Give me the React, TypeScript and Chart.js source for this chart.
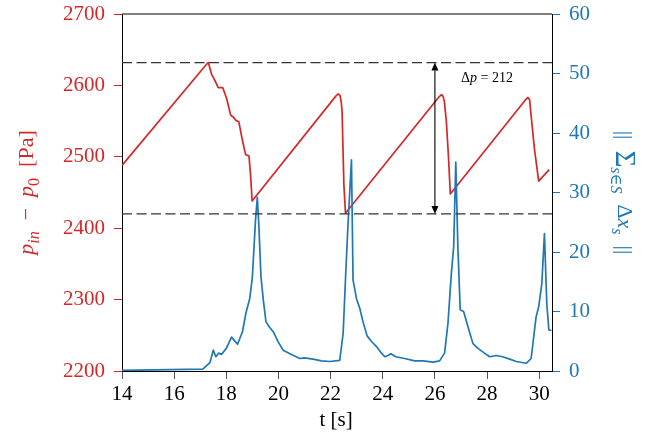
import React, { useEffect, useRef } from "react";
import { Chart, registerables } from "chart.js";

Chart.register(...registerables);

const RED = "#d62728";
const BLUE = "#1f77b4";
const FONT = '"Liberation Serif", "DejaVu Serif", serif';

// Pressure p_in - p_0 [Pa] (left axis)
const pressureT = [
  14.0, 17.25, 17.31, 17.44, 17.56, 17.69, 17.86, 18.01, 18.17, 18.26, 18.37, 18.48,
  18.63, 18.74, 18.87, 18.93, 18.99,
  22.2, 22.29, 22.36, 22.41, 22.44, 22.51, 22.57,
  26.16, 26.25, 26.31, 26.36, 26.44, 26.53, 26.59,
  29.5, 29.57, 29.63, 29.7, 29.82, 29.98, 30.38,
];
const pressureV = [
  2488, 2630, 2632, 2615, 2607, 2597, 2597, 2582, 2558, 2556, 2551, 2549,
  2521, 2503, 2501, 2475, 2438,
  2585, 2588, 2586, 2576, 2563, 2460, 2421,
  2584, 2587, 2585, 2578, 2549, 2493, 2448,
  2581, 2583, 2580, 2554, 2510, 2466, 2482,
];

// || sum_{s in S} Delta x_s || (right axis)
const normT = [
  14.0, 17.1, 17.37, 17.5, 17.6, 17.7, 17.82, 18.0, 18.2, 18.43, 18.62, 18.75, 18.9,
  19.0, 19.12, 19.19, 19.25, 19.33, 19.42, 19.52, 19.65, 19.8, 19.99, 20.18, 20.44,
  20.82, 21.0, 21.33, 21.65, 21.97, 22.35, 22.48, 22.58, 22.67, 22.8, 22.86, 22.99,
  23.12, 23.24, 23.4, 23.56, 23.76, 23.95, 24.08, 24.2, 24.31, 24.5, 24.84, 25.22,
  25.55, 25.92, 26.18, 26.37, 26.5, 26.63, 26.72, 26.8, 26.88, 26.97, 27.1, 27.27,
  27.46, 27.65, 27.9, 28.1, 28.35, 28.6, 28.87, 29.12, 29.5, 29.69, 29.88, 29.98,
  30.1, 30.2, 30.29, 30.37, 30.47,
];
const normV = [
  0.1, 0.3, 1.4, 3.5, 2.4, 3.0, 2.8, 3.8, 5.7, 4.5, 6.6, 9.7, 12.2,
  15.8, 25.4, 29.2, 24.3, 15.8, 11.9, 8.3, 7.4, 6.6, 4.9, 3.5, 2.9,
  2.1, 2.2, 2.0, 1.7, 1.6, 1.8, 6.3, 16.4, 24.9, 35.5, 15.3, 12.2,
  10.5, 8.3, 5.9, 5.0, 4.1, 3.0, 2.4, 2.6, 2.9, 2.4, 2.1, 1.7,
  1.7, 1.5, 1.7, 3.0, 8.0, 16.4, 20.9, 35.1, 20.9, 10.3, 10.0, 7.4,
  4.6, 3.8, 3.0, 2.4, 2.6, 2.4, 2.0, 1.6, 1.3, 2.1, 9.1, 10.8,
  14.7, 23.1, 11.3, 6.9, 6.8,
];

const xTicksStep = 2;
const xMin = 14;
const xMax = 30.49;
const pMin = 2200;
const pMax = 2700;
const nMin = 0;
const nMax = 60;

// annotation values
const levelHigh = 2632;
const levelLow = 2420;
const arrowT = 26;
const deltaLabel = "212";
const deltaLabelT = 28.0;
const deltaLabelP = 2611;

type Seg = { t: string; it?: boolean; sub?: boolean; scale?: number; dy?: number };

function drawRich(
  ctx: CanvasRenderingContext2D,
  segs: Seg[],
  cx: number,
  cy: number,
  rot: number,
  size: number,
  color: string
) {
  ctx.save();
  ctx.translate(cx, cy);
  ctx.rotate(rot);
  const fontFor = (s: Seg) =>
    `${s.it ? "italic " : ""}${Math.round(size * (s.sub ? 0.72 : s.scale || 1))}px ${FONT}`;
  let total = 0;
  const widths = segs.map((s) => {
    ctx.font = fontFor(s);
    const w = ctx.measureText(s.t).width;
    total += w;
    return w;
  });
  let x = -total / 2;
  ctx.fillStyle = color;
  ctx.textBaseline = "alphabetic";
  ctx.textAlign = "left";
  const base = size * 0.33;
  segs.forEach((s, i) => {
    ctx.font = fontFor(s);
    ctx.fillText(s.t, x, base + (s.sub ? size * 0.24 : 0) + (s.dy || 0) * size);
    x += widths[i];
  });
  ctx.restore();
}

const overlayPlugin = {
  id: "overlay",
  afterDatasetsDraw(chart: any) {
    const ctx: CanvasRenderingContext2D = chart.ctx;
    const { left, right, top } = chart.chartArea;
    const xs = chart.scales.x;
    const ys = chart.scales.y;
    ctx.save();
    // top spine
    ctx.strokeStyle = "#000";
    ctx.lineWidth = 1;
    ctx.beginPath();
    ctx.moveTo(left, top);
    ctx.lineTo(right, top);
    ctx.stroke();
    // dashed levels
    ctx.strokeStyle = "#333";
    ctx.lineWidth = 1.3;
    ctx.setLineDash([10, 4.5]);
    [levelHigh, levelLow].forEach((v) => {
      const y = ys.getPixelForValue(v);
      ctx.beginPath();
      ctx.moveTo(left, y);
      ctx.lineTo(right, y);
      ctx.stroke();
    });
    ctx.setLineDash([]);
    // double arrow
    const ax = xs.getPixelForValue(arrowT);
    const yTop = ys.getPixelForValue(levelHigh);
    const yBot = ys.getPixelForValue(levelLow);
    const hl = 8;
    const hw = 3.5;
    ctx.strokeStyle = "#000";
    ctx.fillStyle = "#000";
    ctx.lineWidth = 1.1;
    ctx.beginPath();
    ctx.moveTo(ax, yTop + hl);
    ctx.lineTo(ax, yBot - hl);
    ctx.stroke();
    ctx.beginPath();
    ctx.moveTo(ax, yTop);
    ctx.lineTo(ax - hw, yTop + hl);
    ctx.lineTo(ax + hw, yTop + hl);
    ctx.closePath();
    ctx.fill();
    ctx.beginPath();
    ctx.moveTo(ax, yBot);
    ctx.lineTo(ax - hw, yBot - hl);
    ctx.lineTo(ax + hw, yBot - hl);
    ctx.closePath();
    ctx.fill();
    // label
    drawRich(
      ctx,
      [{ t: "Δ" }, { t: "p", it: true }, { t: " = " }, { t: deltaLabel }],
      xs.getPixelForValue(deltaLabelT),
      ys.getPixelForValue(deltaLabelP),
      0,
      13.5,
      "#000"
    );
    ctx.restore();
  },
  afterDraw(chart: any) {
    const ctx: CanvasRenderingContext2D = chart.ctx;
    const { left, right, top, bottom } = chart.chartArea;
    const midY = (top + bottom) / 2;
    drawRich(
      ctx,
      [
        { t: "p", it: true },
        { t: "in", it: true, sub: true },
        { t: "  −  " },
        { t: "p", it: true },
        { t: "0", sub: true },
        { t: "  [Pa]" },
      ],
      26,
      midY,
      -Math.PI / 2,
      22,
      RED
    );
    drawRich(
      ctx,
      [
        { t: "||  " },
        { t: "Σ", scale: 1.3, dy: 0.06 },
        { t: "s∈S", it: true, sub: true, dy: 0.08 },
        { t: "  Δ" },
        { t: "x", it: true },
        { t: "s", it: true, sub: true },
        { t: "  ||" },
      ],
      625,
      midY,
      Math.PI / 2,
      22,
      BLUE
    );
    drawRich(ctx, [{ t: "t [s]" }], (left + right) / 2 - 1, 419, 0, 21, "#000");
  },
};

export default function App() {
  const ref = useRef<HTMLCanvasElement | null>(null);
  useEffect(() => {
    if (!ref.current) return;
    const tickFont = { family: FONT, size: 21 };
    const fmt = (v: any) => String(v);
    const chart = new Chart(ref.current, {
      type: "line",
      data: {
        datasets: [
          {
            label: "norm",
            data: normT.map((t, i) => ({ x: t, y: normV[i] })),
            borderColor: BLUE,
            borderWidth: 1.7,
            pointRadius: 0,
            yAxisID: "y1",
            order: 0,
            borderJoinStyle: "round",
          },
          {
            label: "pressure",
            data: pressureT.map((t, i) => ({ x: t, y: pressureV[i] })),
            borderColor: RED,
            borderWidth: 1.7,
            pointRadius: 0,
            yAxisID: "y",
            order: 1,
            borderJoinStyle: "round",
          },
        ],
      },
      options: {
        responsive: false,
        animation: false,
        events: [],
        layout: { padding: { top: 14, left: 0, right: 0, bottom: 0 } },
        plugins: { legend: { display: false }, tooltip: { enabled: false } },
        scales: {
          x: {
            type: "linear",
            min: xMin,
            max: xMax,
            position: "bottom",
            afterFit: (s: any) => {
              s.height = 65;
              s.paddingLeft = 0;
              s.paddingRight = 0;
            },
            ticks: {
              stepSize: xTicksStep,
              includeBounds: false,
              color: "#000",
              font: tickFont,
              padding: 3,
              maxRotation: 0,
              autoSkip: false,
              callback: fmt,
            },
            grid: { drawOnChartArea: false, drawTicks: true, tickLength: 8, color: "#555" },
            border: { display: true, color: "#000", width: 1 },
          },
          y: {
            type: "linear",
            position: "left",
            min: pMin,
            max: pMax,
            afterFit: (s: any) => {
              s.width = 122;
              s.paddingTop = 0;
              s.paddingBottom = 0;
            },
            ticks: { stepSize: 100, color: RED, font: tickFont, padding: 9, callback: fmt },
            grid: { drawOnChartArea: false, drawTicks: true, tickLength: 8, color: RED },
            border: { display: true, color: "#000", width: 1 },
          },
          y1: {
            type: "linear",
            position: "right",
            min: nMin,
            max: nMax,
            afterFit: (s: any) => {
              s.width = 101;
              s.paddingTop = 0;
              s.paddingBottom = 0;
            },
            ticks: { stepSize: 10, color: BLUE, font: tickFont, padding: 9, callback: fmt },
            grid: { drawOnChartArea: false, drawTicks: true, tickLength: 8, color: BLUE },
            border: { display: true, color: "#000", width: 1 },
          },
        },
      } as any,
      plugins: [overlayPlugin],
    });
    return () => chart.destroy();
  }, []);
  return (
    <div style={{ position: "fixed", left: 0, top: 0, width: 653, height: 436, background: "#fff" }}>
      <canvas ref={ref} width={653} height={436} />
    </div>
  );
}
